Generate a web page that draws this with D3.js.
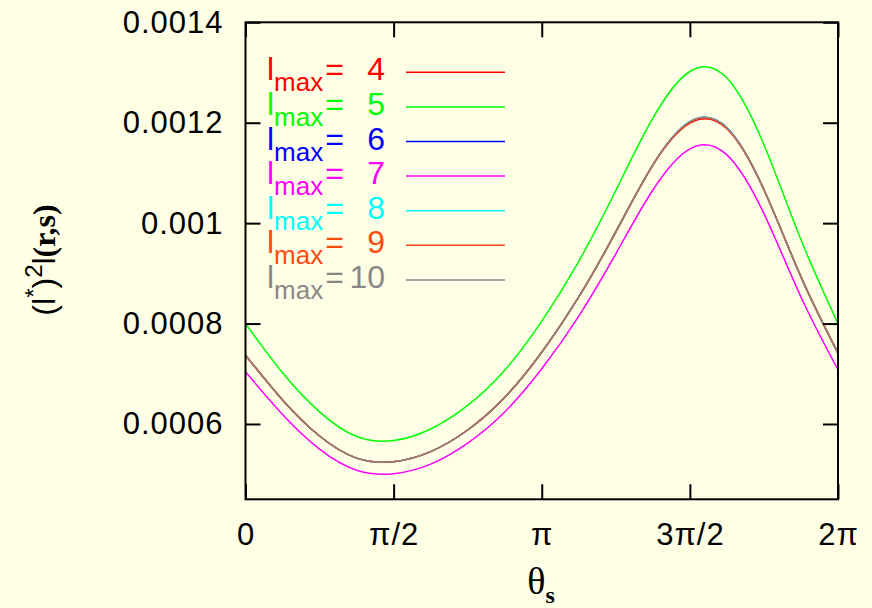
<!DOCTYPE html>
<html lang="en">
<head>
    <meta charset="UTF-8">
    <title>lmax convergence</title>
    <style>
        body { margin: 0; background: #ffffe6; }
        svg { display: block; }
        .tick text { font-family: "Liberation Sans", Arial, sans-serif; font-size: 31px; fill: #000; letter-spacing: 1px; }
        .tick line { stroke: #000; stroke-width: 2px; }
        .domain { display: none; }
        .curve { fill: none; }
    </style>
</head>
<body>

<svg width="872" height="608"></svg>

<script src="https://cdn.jsdelivr.net/npm/d3@7"></script>

<script>
    // theta samples every pi/8 from 0 to 2pi
    var thetaSteps = [0, 1, 2, 3, 4, 5, 6, 7, 8, 9, 10, 11, 12, 13, 14, 15, 16];

    var lmax4  = [0.000737, 0.000648, 0.000576, 0.000532, 0.000525, 0.000545, 0.000588, 0.000653, 0.000743, 0.000853, 0.000982, 0.001115, 0.001199, 0.001188, 0.001066, 0.000893, 0.000741];
    var lmax5  = [0.000800, 0.000702, 0.000624, 0.000575, 0.000567, 0.000590, 0.000637, 0.000707, 0.000805, 0.000924, 0.001065, 0.001209, 0.001302, 0.001289, 0.001156, 0.000967, 0.000800];
    var lmax6  = [0.000737, 0.000648, 0.000576, 0.000532, 0.000525, 0.000545, 0.000588, 0.000653, 0.000743, 0.000853, 0.000983, 0.001116, 0.001202, 0.001190, 0.001067, 0.000893, 0.000741];
    var lmax7  = [0.000704, 0.000619, 0.000550, 0.000508, 0.000501, 0.000520, 0.000562, 0.000624, 0.000710, 0.000815, 0.000939, 0.001066, 0.001148, 0.001136, 0.001019, 0.000853, 0.000708];
    var lmax8  = [0.000737, 0.000648, 0.000576, 0.000532, 0.000525, 0.000545, 0.000588, 0.000653, 0.000743, 0.000853, 0.000983, 0.001116, 0.001202, 0.001190, 0.001067, 0.000893, 0.000741];
    var lmax9  = [0.000737, 0.000648, 0.000576, 0.000532, 0.000525, 0.000545, 0.000588, 0.000653, 0.000743, 0.000853, 0.000983, 0.001116, 0.001201, 0.001189, 0.001067, 0.000893, 0.000741];
    var lmax10 = [0.000737, 0.000648, 0.000576, 0.000532, 0.000525, 0.000545, 0.000588, 0.000653, 0.000743, 0.000853, 0.000983, 0.001116, 0.001202, 0.001190, 0.001067, 0.000893, 0.000741];

    var lmaxLabels = ["4", "5", "6", "7", "8", "9", "10"];
    var colors = ["#ff0000", "#00ff00", "#0000ff", "#ff00ff", "#00ffff", "#ff4a10", "#888888"];
    var series = [lmax4, lmax5, lmax6, lmax7, lmax8, lmax9, lmax10];

    var yTicks = [0.0006, 0.0008, 0.001, 0.0012, 0.0014];
    var yTickLabels = ["0.0006", "0.0008", "0.001", "0.0012", "0.0014"];
    var xTicks = [0, Math.PI / 2, Math.PI, 3 * Math.PI / 2, 2 * Math.PI];
    var xTickLabels = ["0", "\u03c0/2", "\u03c0", "3\u03c0/2", "2\u03c0"];

    var svg = d3.select("svg");
    var plotLeft = 245.5, plotRight = 838, plotTop = 22.3, plotBottom = 499.3;

    var x = d3.scaleLinear().domain([0, 2 * Math.PI]).range([plotLeft, plotRight]);
    var y = d3.scaleLinear().domain([0.00045, 0.0014]).range([plotBottom, plotTop]);

    svg.append("rect").attr("width", 872).attr("height", 608).attr("fill", "#ffffe6");

    // curves
    var line = d3.line()
        .x(function (d, i) { return x(thetaSteps[i] * Math.PI / 8); })
        .y(function (d) { return y(d); })
        .curve(d3.curveNatural);

    var plot = svg.append("g");
    series.forEach(function (s, i) {
        plot.append("path")
            .datum(s)
            .attr("class", "curve")
            .attr("stroke", colors[i])
            .attr("stroke-opacity", i === 6 ? 0.75 : 1)
            .attr("stroke-width", i === 6 ? 1.3 : 1.5)
            .attr("d", line);
    });

    // axes with inward ticks on all sides
    var tickLen = 15;
    svg.append("g")
        .attr("transform", `translate(${plotLeft},0)`)
        .call(d3.axisLeft(y).tickValues(yTicks).tickSize(-tickLen).tickPadding(22)
            .tickFormat(function (d, i) { return yTickLabels[i]; }));
    svg.append("g")
        .attr("transform", `translate(${plotRight},0)`)
        .call(d3.axisRight(y).tickValues(yTicks).tickSize(-tickLen).tickFormat(""));
    svg.append("g")
        .attr("transform", `translate(0,${plotBottom})`)
        .call(d3.axisBottom(x).tickValues(xTicks).tickSize(-tickLen).tickPadding(24)
            .tickFormat(function (d, i) { return xTickLabels[i]; }));
    svg.append("g")
        .attr("transform", `translate(0,${plotTop})`)
        .call(d3.axisTop(x).tickValues(xTicks).tickSize(-tickLen).tickFormat(""));

    svg.append("rect")
        .attr("x", plotLeft).attr("y", plotTop)
        .attr("width", plotRight - plotLeft).attr("height", plotBottom - plotTop)
        .attr("fill", "none").attr("stroke", "#000").attr("stroke-width", 2);

    // legend
    var legend = svg.append("g")
        .style("font-family", "'Liberation Sans', Arial, sans-serif");
    lmaxLabels.forEach(function (lab, i) {
        var ly = 72.3 + i * 34.6;
        var t = legend.append("text")
            .attr("x", 267).attr("y", ly + 8)
            .attr("fill", colors[i])
            .style("font-size", "32px");
        t.append("tspan").text("l");
        t.append("tspan").attr("dy", 11).style("font-size", "26px").text("max");
        t.append("tspan").attr("dy", -11).attr("dx", 2).text("=");
        legend.append("text")
            .attr("x", 385).attr("y", ly + 8)
            .attr("text-anchor", "end")
            .attr("fill", colors[i])
            .style("font-size", "32px")
            .text(lab);
        legend.append("line")
            .attr("x1", 406).attr("x2", 505)
            .attr("y1", ly).attr("y2", ly)
            .attr("stroke", colors[i]).attr("stroke-width", 1.5);
    });

    // x label
    var xl = svg.append("text")
        .attr("x", 541).attr("y", 594)
        .attr("text-anchor", "middle")
        .style("font-family", "'Liberation Serif', 'Times New Roman', serif")
        .style("font-size", "38px");
    xl.append("tspan").text("\u03b8");
    xl.append("tspan").attr("dy", 9).style("font-size", "24px").style("font-weight", "bold").text("s");

    // y label
    var yl = svg.append("text")
        .attr("transform", "translate(55,260) rotate(-90)")
        .attr("text-anchor", "middle")
        .style("font-family", "'Liberation Sans', Arial, sans-serif")
        .style("font-size", "32px");
    yl.append("tspan").text("(l");
    yl.append("tspan").attr("dy", -13).style("font-size", "24px").text("*");
    yl.append("tspan").attr("dy", 13).text(")");
    yl.append("tspan").attr("dy", -13).style("font-size", "24px").text("2");
    yl.append("tspan").attr("dy", 13).text("l");
    yl.append("tspan")
        .style("font-family", "'Liberation Serif', 'Times New Roman', serif")
        .style("font-weight", "bold")
        .text("(r,s)");
</script>

</body>
</html>
